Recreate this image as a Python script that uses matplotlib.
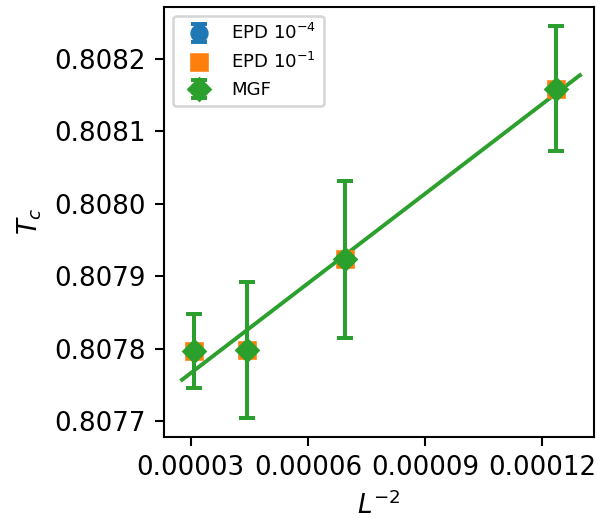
import matplotlib
matplotlib.use("Agg")
import matplotlib.pyplot as plt
import numpy as np

# lattice sizes and critical temperature estimates
L = np.array([90, 120, 150, 180])
tc_epd4 = [0.8081586, 0.8079233, 0.807798, 0.8077967]
tc_epd1 = [0.8081586, 0.8079233, 0.807798, 0.8077967]
tc_mgf = [0.8081586, 0.8079233, 0.807798, 0.8077967]
err_epd4 = [0.863e-4, 1.087e-4, 0.943e-4, 0.511e-4]
err_mgf = [0.863e-4, 1.087e-4, 0.943e-4, 0.511e-4]

x = 1.0 / L**2

fig = plt.figure(figsize=(598 / 188, 518 / 188), dpi=188)
ax = fig.add_axes([164.3 / 598, 1 - 436.7 / 518, (594 - 164.3) / 598, (436.7 - 6.5) / 518])

# linear extrapolation in L^-2
coef = np.polyfit(x, tc_mgf, 1)
xx = np.linspace(0.9 * x.min(), 1.05 * x.max(), 100)
ax.plot(xx, np.polyval(coef, xx), color="C2", lw=1.5)

ax.errorbar(x, tc_epd4, yerr=err_epd4, fmt="o", color="C0", capsize=3, capthick=1.5,
            label=r"EPD $10^{-4}$")
ax.errorbar(x, tc_epd1, fmt="s", color="C1", label=r"EPD $10^{-1}$")
ax.errorbar(x, tc_mgf, yerr=err_mgf, fmt="D", color="C2", capsize=3, capthick=1.5,
            label="MGF")

ax.set_xlim(2.324e-5, 1.3323e-4)
ax.set_ylim(0.8076783, 0.8082725)
ax.set_xticks([0.00003, 0.00006, 0.00009, 0.00012])
ax.set_xticklabels(["0.00003", "0.00006", "0.00009", "0.00012"])
ax.set_yticks([0.8077, 0.8078, 0.8079, 0.8080, 0.8081, 0.8082])
ax.set_yticklabels(["0.8077", "0.8078", "0.8079", "0.8080", "0.8081", "0.8082"])
ax.set_xlabel(r"$L^{-2}$")
ax.set_ylabel(r"$T_c$")
ax.legend(fontsize="x-small", loc="upper left")

fig.savefig("out.png", dpi=188)
